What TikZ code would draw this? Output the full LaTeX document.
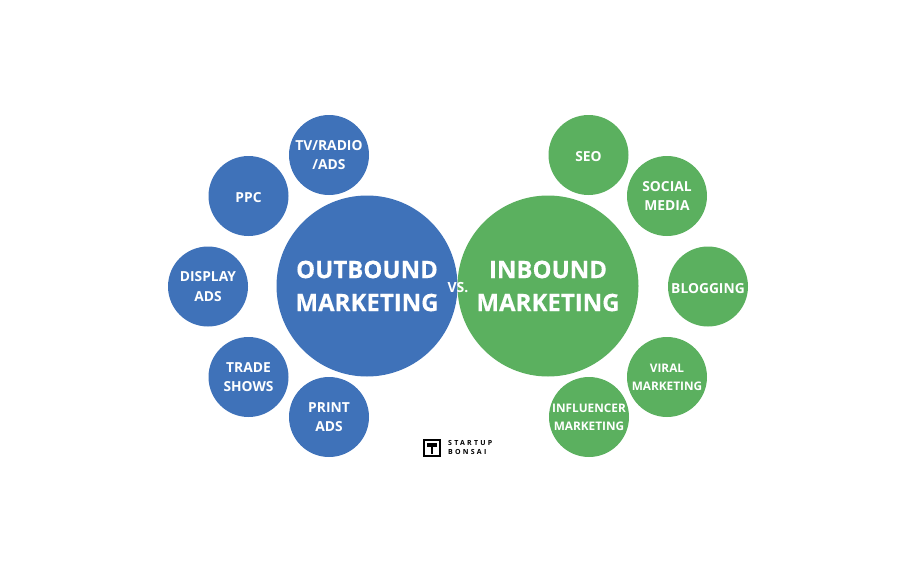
\documentclass[tikz,border=0pt]{standalone}
\usepackage{fontspec}
\setmainfont{Open Sans}
\newfontfamily\heavyfont[BoldFeatures={FakeBold=0.3}]{Open Sans}
\newfontfamily\logofont[BoldFeatures={LetterSpace=32}]{Open Sans}
\definecolor{outblue}{HTML}{3F72B9}
\definecolor{ingreen}{HTML}{5BB05F}
\begin{document}
\begin{tikzpicture}
    \def\dx{1pt}
    \def\dy{-1pt}

    \tikzstyle{small}=[circle,inner sep=-6pt,minimum size=80pt,text=white,align=center,font=\bfseries\fontsize{13.8}{19.5}\selectfont,execute at begin node={\rule{0pt}{14pt}}]
    \tikzstyle{tight}=[font=\bfseries\fontsize{11.8}{18}\selectfont]
    \tikzstyle{big}=[circle,inner sep=0pt,minimum size=181pt,text=white,align=center,font=\heavyfont\bfseries\fontsize{24}{33}\selectfont,execute at begin node={\rule{0pt}{23.5pt}}]
    \tikzstyle{outb}=[fill=outblue]
    \tikzstyle{inb}=[fill=ingreen]

    \useasboundingbox (0*\dx,0*\dy) rectangle (916*\dx,573*\dy);

    \node[big,outb]  (outbound) at (367*\dx,286*\dy) {OUTBOUND\\MARKETING};
    \node[big,inb]  (inbound) at (548*\dx,286*\dy) {INBOUND\\MARKETING};
    \node[text=white,inner sep=0pt,font=\bfseries\fontsize{14}{16}\selectfont]  (vs) at (458*\dx,287.5*\dy) {VS.};

    \node[small,outb]  (tv) at (329*\dx,155*\dy) {TV/RADIO\\/ADS};
    \node[small,outb]  (ppc) at (248.5*\dx,196*\dy) {PPC};
    \node[small,outb]  (display) at (208*\dx,286.5*\dy) {DISPLAY\\ADS};
    \node[small,outb]  (trade) at (248.5*\dx,377*\dy) {TRADE\\SHOWS};
    \node[small,outb]  (print) at (329*\dx,417*\dy) {PRINT\\ADS};

    \node[small,inb]  (seo) at (588.5*\dx,155*\dy) {SEO};
    \node[small,inb]  (social) at (667*\dx,196*\dy) {SOCIAL\\MEDIA};
    \node[small,inb]  (blogging) at (708*\dx,286.5*\dy) {BLOGGING};
    \node[small,inb,tight]  (viral) at (667*\dx,377*\dy) {VIRAL\\MARKETING};
    \node[small,inb,tight]  (influencer) at (589*\dx,417*\dy) {INFLUENCER\\MARKETING};

    % logo
    \node[draw=black,line width=2pt,inner sep=0pt,minimum size=16pt]  (logo) at (432*\dx,448*\dy) {};
    \node[anchor=west,inner sep=0pt,align=left,font=\logofont\bfseries\fontsize{7}{8.5}\selectfont]  (bonsai) at (448*\dx,447.5*\dy) {STARTUP\\BONSAI};
    \fill[black] (427*\dx,443*\dy) rectangle (437*\dx,447*\dy);
    \fill[black] (431*\dx,447*\dy) rectangle (433*\dx,454*\dy);
\end{tikzpicture}
\end{document}
